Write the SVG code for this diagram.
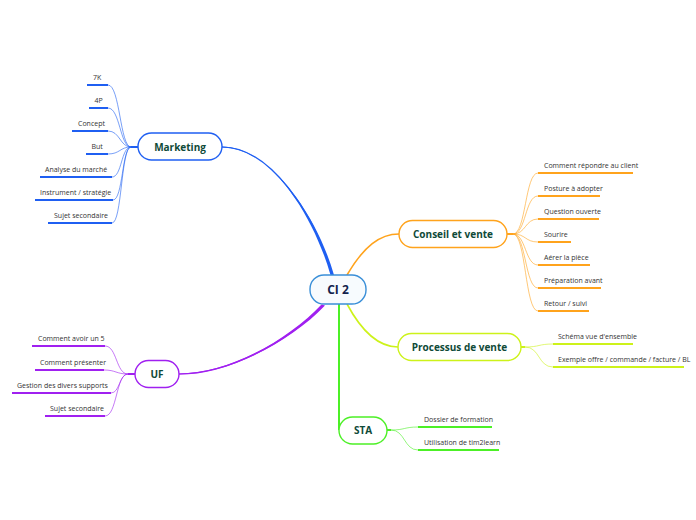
<svg xmlns="http://www.w3.org/2000/svg" width="696" height="520" viewBox="0 0 696 520">
<style>
.bg{fill:#ffffff}
.node rect{fill:#ffffff;stroke-width:1.4}
.lbl{font-family:"Open Sans","Noto Sans",sans-serif;font-weight:bold;font-size:10px;fill:#0f4a38;text-anchor:middle}
.root{font-family:"Open Sans","Noto Sans",sans-serif;font-weight:bold;font-size:12px;fill:#12234d;text-anchor:middle}
.sub{font-family:"Open Sans","Noto Sans",sans-serif;font-size:7px;fill:#333333}
.ul{stroke-width:2;fill:none}
.br{fill:none;stroke-width:0.8;opacity:0.75}
.blue{stroke:#1f5ff2}
.orange{stroke:#ffa31c}
.lime{stroke:#cdf21a}
.green{stroke:#4cf026}
.purple{stroke:#a020f0}
</style>
<rect class="bg" x="0" y="0" width="696" height="520"/>
<g id="connectors">
  <path d="M222,147 C270,147 315,214 332,275" class="blue" fill="none" stroke-width="1.2"/>
  <path d="M222,146.6 C270,146.6 313.5,215 330.5,275 L334,275 C316.5,214 270,147.4 222,147.4 Z" fill="#1f5ff2"/>
  <path d="M179,374 C230,374 290,340 323,305" class="purple" fill="none" stroke-width="1.2"/>
  <path d="M179,373.6 C230,373.6 289,339 321.5,304.5 L325,305.5 C291,341 230,374.4 179,374.4 Z" fill="#a020f0"/>
  <path d="M347,275 C364,246 380,234 399,234" class="orange" fill="none" stroke-width="1.6"/>
  <path d="M347,304 C362,332 378,347 398,347" class="lime" fill="none" stroke-width="1.6"/>
  <path d="M339,304 L339,430" class="green" fill="none" stroke-width="2"/>
  <!-- Marketing children -->
  <line x1="131" y1="147" x2="138" y2="147" class="blue" stroke-width="2"/>
  <path class="br blue" d="M131,147 C120,147 120,85 108,85"/>
  <path class="br blue" d="M131,147 C120,147 120,108 108,108"/>
  <path class="br blue" d="M131,147 C120,147 120,131 108,131"/>
  <path class="br blue" d="M131,147 C120,147 120,154 108,154"/>
  <path class="br blue" d="M131,147 C121,147 122,177 112,177"/>
  <path class="br blue" d="M131,147 C122,147 123,200 113,200"/>
  <path class="br blue" d="M131,147 C121,147 122,223 112,223"/>
  <g class="ul blue">
    <line x1="87" y1="85" x2="108" y2="85"/>
    <line x1="89" y1="108" x2="108" y2="108"/>
    <line x1="72" y1="131" x2="108" y2="131"/>
    <line x1="86" y1="154" x2="108" y2="154"/>
    <line x1="40" y1="177" x2="112" y2="177"/>
    <line x1="35" y1="200" x2="113" y2="200"/>
    <line x1="48" y1="223" x2="112" y2="223"/>
  </g>
  <!-- Conseil children -->
  <line x1="507" y1="234" x2="513" y2="234" class="orange" stroke-width="2"/>
  <path class="br orange" d="M513,234 C526,234 525,173 538,173"/>
  <path class="br orange" d="M513,234 C526,234 525,196 538,196"/>
  <path class="br orange" d="M513,234 C526,234 525,219 538,219"/>
  <path class="br orange" d="M513,234 C526,234 525,242 538,242"/>
  <path class="br orange" d="M513,234 C526,234 525,265 538,265"/>
  <path class="br orange" d="M513,234 C526,234 525,288 538,288"/>
  <path class="br orange" d="M513,234 C526,234 525,311 538,311"/>
  <g class="ul orange">
    <line x1="538" y1="173" x2="633" y2="173"/>
    <line x1="538" y1="196" x2="600" y2="196"/>
    <line x1="538" y1="219" x2="599" y2="219"/>
    <line x1="538" y1="242" x2="571" y2="242"/>
    <line x1="538" y1="265" x2="590" y2="265"/>
    <line x1="538" y1="288" x2="601" y2="288"/>
    <line x1="538" y1="311" x2="589" y2="311"/>
  </g>
  <!-- Processus children -->
  <line x1="521" y1="347" x2="525" y2="347" class="lime" stroke-width="2"/>
  <path class="br lime" d="M525,347 C540,347 538,344 553,344"/>
  <path class="br lime" d="M525,347 C540,347 538,367 553,367"/>
  <g class="ul lime">
    <line x1="553" y1="344" x2="633" y2="344"/>
    <line x1="553" y1="367" x2="684" y2="367"/>
  </g>
  <!-- STA children -->
  <line x1="387" y1="430" x2="391" y2="430" class="green" stroke-width="2"/>
  <path class="br green" d="M391,430 C405,430 404,427 418,427"/>
  <path class="br green" d="M391,430 C405,430 404,450 418,450"/>
  <g class="ul green">
    <line x1="418" y1="427" x2="492" y2="427"/>
    <line x1="418" y1="450" x2="499" y2="450"/>
  </g>
  <!-- UF children -->
  <line x1="128" y1="374" x2="135" y2="374" class="purple" stroke-width="2"/>
  <path class="br purple" d="M128,374 C116,374 117,346 105,346"/>
  <path class="br purple" d="M128,374 C116,374 116,370 104,370"/>
  <path class="br purple" d="M128,374 C119,374 120,393 111,393"/>
  <path class="br purple" d="M128,374 C116,374 117,416 105,416"/>
  <g class="ul purple">
    <line x1="32" y1="346" x2="105" y2="346"/>
    <line x1="35" y1="370" x2="104" y2="370"/>
    <line x1="12" y1="393" x2="111" y2="393"/>
    <line x1="45" y1="416" x2="105" y2="416"/>
  </g>
</g>
<g id="node-ci2" class="node">
  <rect x="310" y="275" width="56" height="29" rx="14" style="stroke:#3a8fd8;fill:#f7fbfe"/>
  <text class="root" x="338" y="294.3">CI 2</text>
</g>
<g id="node-marketing" class="node">
  <rect x="138" y="133" width="84" height="27" rx="13.5" class="blue"/>
  <text class="lbl" x="180" y="150.5">Marketing</text>
</g>
<g id="node-conseil" class="node">
  <rect x="399" y="220.5" width="108" height="27" rx="13.5" class="orange"/>
  <text class="lbl" x="453" y="237.5">Conseil et vente</text>
</g>
<g id="node-processus" class="node">
  <rect x="398" y="333.5" width="123" height="27" rx="13.5" class="lime"/>
  <text class="lbl" x="459.5" y="350.7">Processus de vente</text>
</g>
<g id="node-sta" class="node">
  <rect x="339" y="417" width="48" height="27" rx="13.5" class="green"/>
  <text class="lbl" x="363" y="434">STA</text>
</g>
<g id="node-uf" class="node">
  <rect x="135" y="360.5" width="44" height="27" rx="13.5" class="purple"/>
  <text class="lbl" x="157" y="377.5">UF</text>
</g>
<g id="marketing-children" class="sub">
  <text class="sub" x="93" y="79.5">7K</text>
  <text class="sub" x="94.5" y="102.5">4P</text>
  <text class="sub" x="78" y="125.5">Concept</text>
  <text class="sub" x="91.5" y="148.5">But</text>
  <text class="sub" x="45" y="171.5">Analyse du marché</text>
  <text class="sub" x="40" y="194.5">Instrument / stratégie</text>
  <text class="sub" x="54" y="217.5">Sujet secondaire</text>
</g>
<g id="conseil-children">
  <text class="sub" x="544" y="167.5">Comment répondre au client</text>
  <text class="sub" x="544" y="190.5">Posture à adopter</text>
  <text class="sub" x="544" y="213.5">Question ouverte</text>
  <text class="sub" x="544" y="236.5">Sourire</text>
  <text class="sub" x="544" y="259.5">Aérer la pièce</text>
  <text class="sub" x="544" y="282.5">Préparation avant</text>
  <text class="sub" x="544" y="305.5">Retour / suivi</text>
</g>
<g id="processus-children">
  <text class="sub" x="558" y="338.5">Schéma vue d'ensemble</text>
  <text class="sub" x="558" y="361.5">Exemple offre / commande / facture / BL</text>
</g>
<g id="sta-children">
  <text class="sub" x="424" y="421.5">Dossier de formation</text>
  <text class="sub" x="424" y="444.5">Utilisation de tim2learn</text>
</g>
<g id="uf-children">
  <text class="sub" x="38" y="340.5">Comment avoir un 5</text>
  <text class="sub" x="40" y="364.5">Comment présenter</text>
  <text class="sub" x="17" y="387.5">Gestion des divers supports</text>
  <text class="sub" x="50" y="410.5">Sujet secondaire</text>
</g>
</svg>
